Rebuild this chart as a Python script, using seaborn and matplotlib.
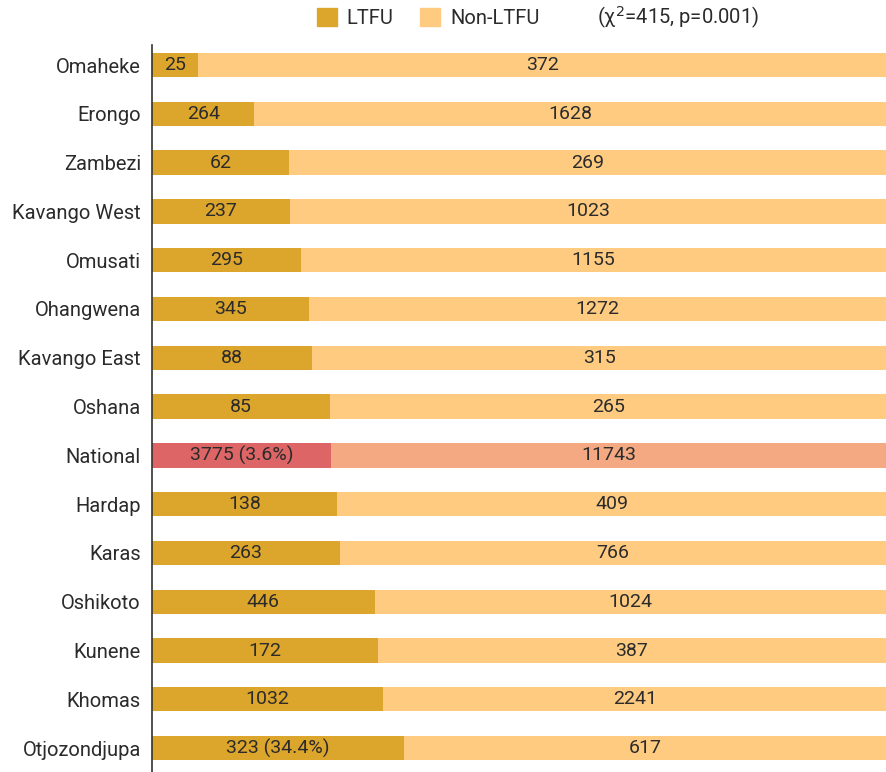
import pandas as pd
import matplotlib.pyplot as plt
import seaborn as sns
from matplotlib.patches import Patch

regions = ['Omaheke', 'Erongo', 'Zambezi', 'Kavango West', 'Omusati', 'Ohangwena',
           'Kavango East', 'Oshana', 'National', 'Hardap', 'Karas', 'Oshikoto',
           'Kunene', 'Khomas', 'Otjozondjupa']
ltfu = [25, 264, 62, 237, 295, 345, 88, 85, 3775, 138, 263, 446, 172, 1032, 323]
non_ltfu = [372, 1628, 269, 1023, 1155, 1272, 315, 265, 11743, 409, 766, 1024, 387, 2241, 617]
ltfu_labels = ['25', '264', '62', '237', '295', '345', '88', '85', '3775 (3.6%)',
               '138', '263', '446', '172', '1032', '323 (34.4%)']

df = pd.DataFrame({'region': regions, 'ltfu': ltfu, 'non': non_ltfu})
df['total'] = df['ltfu'] + df['non']
df['p_ltfu'] = df['ltfu'] / df['total']
df['p_all'] = 1.0

C_LTFU, C_NON = '#dca52b', '#fecb81'
C_NAT_LTFU, C_NAT_NON = '#de6565', '#f4a982'
pal_non = [C_NAT_NON if r == 'National' else C_NON for r in regions]
pal_ltfu = [C_NAT_LTFU if r == 'National' else C_LTFU for r in regions]

sns.set_style("white")
plt.rcParams['font.family'] = ['Roboto', 'DejaVu Sans']

fig = plt.figure(figsize=(8.86, 7.72), dpi=100)
ax = fig.add_axes([152 / 886, 0, 1 - 152 / 886, 1 - 45 / 772])

sns.barplot(data=df, y='region', x='p_all', hue='region', palette=pal_non,
            orient='h', width=0.5, legend=False, ax=ax, linewidth=0, saturation=1)
sns.barplot(data=df, y='region', x='p_ltfu', hue='region', palette=pal_ltfu,
            orient='h', width=0.5, legend=False, ax=ax, linewidth=0, saturation=1)

txt = '#2b2b2b'
for i, row in df.iterrows():
    ax.text(row['p_ltfu'] / 2, i, ltfu_labels[i], ha='center', va='center',
            fontsize=14, color=txt)
    ax.text(row['p_ltfu'] + (1 - row['p_ltfu']) / 2, i, str(row['non']),
            ha='center', va='center', fontsize=14, color=txt)

ax.set_xlim(0, 1)
ax.set_ylim(14.49, -0.41)
ax.set_xlabel('')
ax.set_ylabel('')
ax.set_xticks([])
ax.tick_params(axis='y', length=0, labelsize=14.5, labelcolor=txt, pad=8)
for s in ['top', 'right', 'bottom']:
    ax.spines[s].set_visible(False)
ax.spines['left'].set_color('#333333')
ax.spines['left'].set_linewidth(1.2)

handles = [Patch(color=C_LTFU, label='LTFU'), Patch(color=C_NON, label='Non-LTFU')]
fig.legend(handles=handles, loc='center', bbox_to_anchor=(428 / 886, 1 - 18 / 772),
           ncol=2, frameon=False, fontsize=14.5, handlelength=1.0, handleheight=1.0,
           handletextpad=0.5, columnspacing=1.3, labelcolor=txt)
fig.text(597 / 886, 1 - 18 / 772, '(χ$^2$=415, p=0.001)', ha='left', va='center',
         fontsize=14.5, color=txt)

plt.savefig('out.png', dpi=100)
